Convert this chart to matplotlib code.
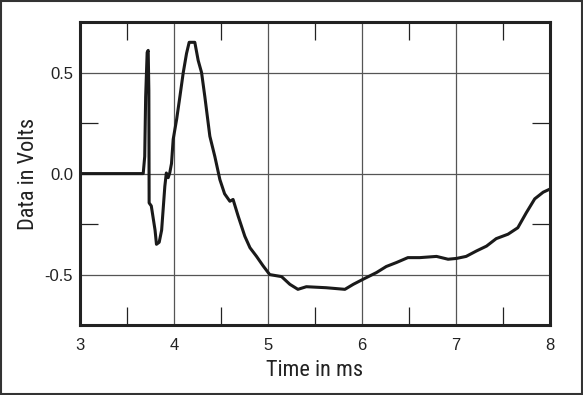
import matplotlib
matplotlib.use("Agg")
import matplotlib.pyplot as plt
from matplotlib.patches import Rectangle
from matplotlib.ticker import MultipleLocator

# Datos (tiempo en ms, tension en V)
tiempo = [3.0, 3.5, 3.674, 3.69, 3.70, 3.716, 3.727, 3.734, 3.737, 3.76, 3.80,
          3.815, 3.844, 3.87, 3.904, 3.92, 3.94, 3.957, 3.975, 3.993, 4.03,
          4.064, 4.10, 4.135, 4.163, 4.223, 4.259, 4.295, 4.33, 4.383, 4.436,
          4.49, 4.54, 4.596, 4.63, 4.684, 4.755, 4.81, 4.88, 4.95, 5.02, 5.146,
          5.234, 5.32, 5.41, 5.62, 5.82, 5.91, 6.014, 6.156, 6.26, 6.37, 6.49,
          6.617, 6.795, 6.918, 7.007, 7.11, 7.22, 7.327, 7.43, 7.556, 7.66,
          7.75, 7.84, 7.93, 8.0]
voltios = [0.0, 0.0, 0.0, 0.085, 0.38, 0.60, 0.61, 0.41, -0.145, -0.16, -0.28,
           -0.35, -0.34, -0.28, -0.063, 0.003, -0.02, 0.005, 0.05, 0.17, 0.27,
           0.38, 0.50, 0.595, 0.65, 0.65, 0.56, 0.50, 0.38, 0.185, 0.085,
           -0.03, -0.10, -0.137, -0.128, -0.21, -0.31, -0.367, -0.41, -0.457, -0.50, -0.51,
           -0.548, -0.573, -0.56, -0.565, -0.573, -0.548, -0.523, -0.49, -0.46, -0.44, -0.416,
           -0.416, -0.41, -0.424, -0.42, -0.41, -0.383, -0.359, -0.322, -0.30, -0.268,
           -0.194, -0.125, -0.092, -0.077]

x_ticks = [3, 4, 5, 6, 7, 8]
y_ticks = [-0.5, 0.0, 0.5]
y_labels = ["-0.5", "0.0", "0.5"]

plt.rcParams['font.family'] = ['Liberation Sans', 'DejaVu Sans']
fuente_titulos = ['Roboto Condensed', 'Liberation Sans Narrow', 'Liberation Sans', 'DejaVu Sans']

fig = plt.figure(figsize=(5.83, 3.95), dpi=100)
ax = fig.add_axes([0.137, 0.177, 0.806, 0.767])

ax.plot(tiempo, voltios, color='#1a1a1a', linewidth=2.2)

ax.set_xlim(3, 8)
ax.set_ylim(-0.75, 0.75)
ax.set_xticks(x_ticks)
ax.set_yticks(y_ticks)
ax.set_yticklabels(y_labels)
ax.xaxis.set_minor_locator(MultipleLocator(0.5))
ax.yaxis.set_minor_locator(MultipleLocator(0.25))

ax.grid(True, which='major', color='#555555', linewidth=0.9)
ax.tick_params(which='major', length=0, labelsize=12, colors='#222222')
ax.tick_params(axis='x', which='major', pad=9)
ax.tick_params(axis='y', which='major', pad=5)
ax.tick_params(which='minor', direction='in', length=13, width=0.9, color='#222222',
               top=True, right=True)

for s in ax.spines.values():
    s.set_linewidth(2.2)
    s.set_color('#222222')

ax.set_xlabel("Time in ms", fontsize=16, color='#222222', labelpad=5, family=fuente_titulos)
ax.set_ylabel("Data in Volts", fontsize=16, color='#222222', labelpad=4, family=fuente_titulos)

# marco exterior
fig.patches.append(Rectangle((0.002, 0.003), 0.996, 0.994, transform=fig.transFigure,
                             fill=False, edgecolor='#333333', linewidth=1.5))

plt.savefig("out.png", dpi=100)
plt.close()
